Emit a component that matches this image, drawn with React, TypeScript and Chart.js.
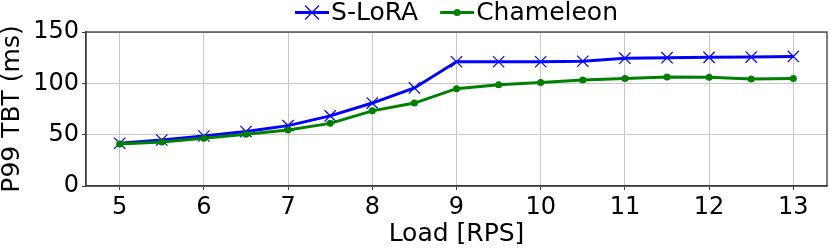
import React, { useEffect, useRef } from "react";
import { Chart, registerables } from "chart.js";

Chart.register(...registerables);

const loads = [5, 5.5, 6, 6.5, 7, 7.5, 8, 8.5, 9, 9.5, 10, 10.5, 11, 11.5, 12, 12.5, 13];
const sLora = [41.6, 44.8, 48.7, 53, 58.8, 68.3, 80.8, 95.5, 121, 121, 121, 121.5, 124.5, 125, 125.3, 125.6, 126.2];
const chameleon = [40.9, 42.8, 46.4, 50.3, 54.6, 61, 73.2, 80.8, 94.8, 98.7, 100.7, 103.3, 104.6, 106.2, 105.9, 104.3, 104.6];
const xTicks = [5, 6, 7, 8, 9, 10, 11, 12, 13];
const seriesNames = ["S-LoRA", "Chameleon"];
const seriesColors = ["#0000ff", "#008000"];
const FONT = "'DejaVu Sans', sans-serif";

const framePlugin = {
  id: "frame",
  afterDraw(chart: any) {
    const { ctx, chartArea } = chart;
    ctx.save();
    ctx.strokeStyle = "#3a3a3a";
    ctx.lineWidth = 1.3;
    ctx.strokeRect(chartArea.left, chartArea.top, chartArea.right - chartArea.left, chartArea.bottom - chartArea.top);
    ctx.restore();
  },
};

const legendPlugin = {
  id: "customLegend",
  afterDraw(chart: any) {
    const { ctx, chartArea } = chart;
    ctx.save();
    ctx.font = `25px ${FONT}`;
    const handle = 34;
    const gap = 2;
    const sep = 22;
    const widths = seriesNames.map((n) => ctx.measureText(n).width);
    const total = widths.reduce((a, w) => a + handle + gap + w, 0) + sep * (seriesNames.length - 1);
    let x = (chartArea.left + chartArea.right) / 2 - total / 2;
    const y = 12.5;
    seriesNames.forEach((name, i) => {
      const color = seriesColors[i];
      ctx.strokeStyle = color;
      ctx.fillStyle = color;
      ctx.lineWidth = 3;
      ctx.beginPath();
      ctx.moveTo(x, y);
      ctx.lineTo(x + handle, y);
      ctx.stroke();
      const cx = x + handle / 2;
      if (i === 0) {
        ctx.lineWidth = 1.2;
        const r = 7;
        ctx.beginPath();
        ctx.moveTo(cx - r, y - r);
        ctx.lineTo(cx + r, y + r);
        ctx.moveTo(cx - r, y + r);
        ctx.lineTo(cx + r, y - r);
        ctx.stroke();
      } else {
        ctx.beginPath();
        ctx.arc(cx, y, 3.5, 0, Math.PI * 2);
        ctx.fill();
      }
      ctx.fillStyle = "#000";
      ctx.textBaseline = "middle";
      ctx.textAlign = "left";
      ctx.fillText(name, x + handle + gap, y + 1);
      x += handle + gap + widths[i] + sep;
    });
    ctx.restore();
  },
};

export default function App() {
  const ref = useRef<HTMLCanvasElement | null>(null);
  useEffect(() => {
    if (!ref.current) return;
    Chart.defaults.font.family = FONT;
    Chart.defaults.color = "#000";
    const chart = new Chart(ref.current, {
      type: "line",
      data: {
        datasets: [
          {
            label: seriesNames[0],
            data: loads.map((x, i) => ({ x, y: sLora[i] })),
            borderColor: seriesColors[0],
            backgroundColor: seriesColors[0],
            borderWidth: 3,
            pointStyle: "crossRot",
            pointRadius: 8,
            pointBorderWidth: 1.2,
            pointBorderColor: seriesColors[0],
            order: 1,
          },
          {
            label: seriesNames[1],
            data: loads.map((x, i) => ({ x, y: chameleon[i] })),
            borderColor: seriesColors[1],
            backgroundColor: seriesColors[1],
            borderWidth: 3,
            pointStyle: "circle",
            pointRadius: 3.5,
            pointBorderWidth: 0,
            order: 0,
          },
        ],
      },
      options: {
        animation: false,
        responsive: false,
        maintainAspectRatio: false,
        layout: { autoPadding: false, padding: { left: 0, right: 3, top: 32, bottom: 0 } },
        plugins: { legend: { display: false }, tooltip: { enabled: false } },
        scales: {
          x: {
            type: "linear",
            min: 4.6,
            max: 13.4,
            afterBuildTicks: (scale: any) => {
              scale.ticks = xTicks.map((v) => ({ value: v }));
            },
            afterFit: (scale: any) => {
              scale.height = 62;
              scale.paddingLeft = 0;
              scale.paddingRight = 0;
            },
            ticks: { font: { size: 24 }, padding: 3, maxRotation: 0, autoSkip: false },
            grid: { color: "#c8c8c8", lineWidth: 1, tickLength: 4, tickColor: "#3a3a3a" },
            border: { color: "#3a3a3a", width: 1.3 },
            title: { display: true, text: "Load [RPS]", font: { size: 25, lineHeight: 1 }, padding: { top: 0, bottom: 1 } },
          },
          y: {
            min: 0,
            max: 150,
            ticks: { stepSize: 50, font: { size: 24 }, padding: 3 },
            afterFit: (scale: any) => {
              scale.width = 86;
            },
            grid: { color: "#c8c8c8", lineWidth: 1, tickLength: 4, tickColor: "#3a3a3a" },
            border: { color: "#3a3a3a", width: 1.3 },
            title: { display: true, text: "P99 TBT (ms)", font: { size: 25, lineHeight: 1 }, padding: 0 },
          },
        },
      },
      plugins: [framePlugin, legendPlugin],
    } as any);
    return () => chart.destroy();
  }, []);
  return (
    <div style={{ position: "fixed", left: 0, top: 0, width: 830, height: 248 }}>
      <canvas ref={ref} width={830} height={248} style={{ display: "block", width: 830, height: 248 }} />
    </div>
  );
}
